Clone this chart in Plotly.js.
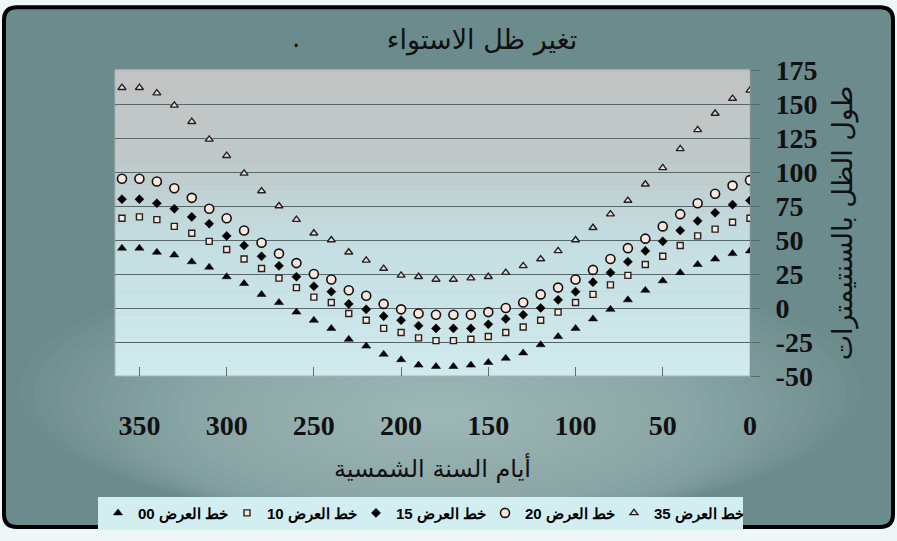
<!DOCTYPE html>
<html>
<head>
<meta charset="utf-8">
<script src="https://cdn.plot.ly/plotly-3.0.1.min.js"></script>
<style>html,body{margin:0;padding:0;background:#eef7f8;}#chart{width:897px;height:541px;}</style>
</head>
<body>
<div id="chart"></div>
<script>
// ---- Data ----
const days = [0,10,20,30,40,50,60,70,80,90,100,110,120,130,140,150,160,170,180,190,200,210,220,230,240,250,260,270,280,290,300,310,320,330,340,350,360];
const lat35 = [160,154,143,131,117,103,91,79,69,59,50,42,36,31,26,23,22,21,21,23,24,29,35,41,50,55,65,75,86,99,112,124,137,149,158,162,162];
const lat20 = [94,90,84,77,69,60,51,44,36,28,21,15,10,4,0,-3,-5,-5,-5,-4,-1,3,9,13,21,25,33,40,48,57,66,73,81,88,93,95,95];
const lat15 = [79,76,70,64,57,49,42,34,26,19,12,6,0,-5,-8,-12,-15,-15,-15,-13,-9,-6,-1,3,12,16,23,31,38,46,53,62,67,73,77,80,80];
const lat10 = [66,63,58,53,46,38,32,24,17,10,4,-3,-9,-14,-18,-21,-23,-24,-24,-22,-18,-15,-9,-4,4,8,15,22,29,36,43,49,55,60,65,67,66];
const lat00 = [42,40,36,32,26,20,13,6,-1,-8,-15,-21,-27,-33,-37,-40,-42,-43,-43,-42,-38,-34,-28,-23,-15,-9,-3,4,10,18,23,30,34,39,41,44,44];
const seriesNames = ["خط العرض 00","خط العرض 10","خط العرض 15","خط العرض 20","خط العرض 35"];
const yTicks = [-50,-25,0,25,50,75,100,125,150,175];
const xTicks = [0,50,100,150,200,250,300,350];
const titleText = "تغير ظل الاستواء";
const xTitle = "أيام السنة الشمسية";
const yTitle = "طول الظل بالسنتيمترات";

// ---- Geometry helpers ----
const W = 897, H = 541, ML = 115, MR = 147, MT = 70, MB = 159;
const PW = W - ML - MR, PH = H - MT - MB;
const fx = px => (px - ML) / PW;
const fy = py => (H - MB - py) / PH;

function hex2rgb(h){return [parseInt(h.substr(1,2),16),parseInt(h.substr(3,2),16),parseInt(h.substr(5,2),16)];}
function lerpColor(stops, t){
  for (let i=0;i<stops.length-1;i++){
    const a=stops[i], b=stops[i+1];
    if (t>=a[0] && t<=b[0]){
      const u=(t-a[0])/(b[0]-a[0]); const ca=hex2rgb(a[1]), cb=hex2rgb(b[1]);
      const c=ca.map((v,k)=>Math.round(v+(cb[k]-v)*u));
      return 'rgb('+c.join(',')+')';
    }
  }
  return stops[stops.length-1][1];
}

const shapes = [];
// outer rounded frame
(function(){
  const x0=4,y0=6,x1=893,y1=536,r=13;
  const P=(x,y)=>fx(x)+','+fy(y);
  const d='M'+P(x0+r,y0)+' L'+P(x1-r,y0)+' Q'+P(x1,y0)+' '+P(x1,y0+r)+' L'+P(x1,y1-r)+' Q'+P(x1,y1)+' '+P(x1-r,y1)+
    ' L'+P(x0+r,y1)+' Q'+P(x0,y1)+' '+P(x0,y1-r)+' L'+P(x0,y0+r)+' Q'+P(x0,y0)+' '+P(x0+r,y0)+' Z';
  shapes.push({type:'path',xref:'paper',yref:'paper',path:d,fillcolor:'#6b8b8c',line:{color:'#000',width:4},layer:'below'});
})();
// soft glow toward the lower centre (many faint ellipses)
const NG = 30;
for (let i=0;i<NG;i++){
  const k=1-i/NG, cx=440, cy=420, rx=400*k+20, ry=150*k+8;
  shapes.push({type:'circle',xref:'paper',yref:'paper',x0:fx(cx-rx),x1:fx(cx+rx),y0:fy(Math.min(cy+ry,532)),y1:fy(cy-ry),
    fillcolor:'#b4d4d4',opacity:0.045,line:{width:0},layer:'below'});
}
// plot area vertical gradient
const plotStops=[[0,'#c3c3c3'],[0.3,'#bfc9ca'],[0.55,'#c3dde0'],[1,'#d0eaee']];
const NB=40;
for (let i=0;i<NB;i++){
  shapes.push({type:'rect',xref:'paper',yref:'paper',x0:0,x1:1,y0:1-(i+1)/NB,y1:1-i/NB+0.002,
    fillcolor:lerpColor(plotStops,(i+0.5)/NB),line:{width:0},layer:'below'});
}
shapes.push({type:'rect',xref:'paper',yref:'paper',x0:0,x1:1,y0:0,y1:1,line:{color:'#a9b4b5',width:1},layer:'below'});

// ---- Traces ----
const bodyFill = '#fde6dc';
const traces = [
  {x:days,y:lat00,name:seriesNames[0],mode:'markers',type:'scatter',
   marker:{symbol:'triangle-up',size:8,color:'#000',line:{color:'#000',width:0.5}}},
  {x:days,y:lat10,name:seriesNames[1],mode:'markers',type:'scatter',
   marker:{symbol:'square',size:6,color:bodyFill,line:{color:'#222',width:1.4}}},
  {x:days,y:lat15,name:seriesNames[2],mode:'markers',type:'scatter',
   marker:{symbol:'diamond',size:7,color:'#000',line:{color:'#000',width:0.5}}},
  {x:days,y:lat20,name:seriesNames[3],mode:'markers',type:'scatter',
   marker:{symbol:'circle',size:9,color:bodyFill,line:{color:'#111',width:1.6}}},
  {x:days,y:lat35,name:seriesNames[4],mode:'markers',type:'scatter',
   marker:{symbol:'triangle-up',size:7,color:'#eadbd3',line:{color:'#222',width:1.4}}}
];

const tickFont = {family:'Liberation Serif',size:28,color:'#111',weight:'bold'};
const layout = {
  width:W, height:H,
  margin:{l:ML,r:MR,t:MT,b:MB,pad:0},
  paper_bgcolor:'#eef7f8',
  plot_bgcolor:'rgba(0,0,0,0)',
  font:{family:'DejaVu Sans, Arial, sans-serif',color:'#000'},
  title:{text:titleText,x:482/W,xanchor:'center',xref:'container',y:1-40/H,yanchor:'middle',yref:'container',
    font:{family:'DejaVu Sans, sans-serif',size:27,color:'#111'}},
  xaxis:{range:[364,0],tickvals:xTicks,ticktext:xTicks.map(String),showgrid:false,zeroline:false,
    ticks:'inside',ticklen:9,tickcolor:'#5d6d6e',tickwidth:1,showline:false,
    ticklabelstandoff:30,
    tickfont:tickFont,
    title:{text:xTitle,standoff:20,font:{family:'DejaVu Sans, sans-serif',size:24,color:'#111'}}},
  yaxis:{side:'right',range:[-50,175],tickvals:yTicks,ticktext:yTicks.map(String),
    showgrid:true,gridcolor:'#56686a',gridwidth:1,zeroline:false,
    showline:true,linecolor:'#7f9191',linewidth:1,
    ticks:'outside',ticklen:9,tickcolor:'#56686a',ticklabelstandoff:10,
    tickfont:tickFont,
    title:{text:yTitle,standoff:16,font:{family:'DejaVu Sans, sans-serif',size:27,color:'#111'}}},
  legend:{orientation:'h',x:fx(98),xanchor:'left',y:fy(505),yanchor:'top',
    bgcolor:'#d3eef0',borderwidth:0,traceorder:'normal',
    font:{family:'Liberation Sans, Arial, sans-serif',size:15,color:'#000',weight:'bold'},
    itemwidth:30,tracegroupgap:0,entrywidth:84},
  shapes:shapes,
  annotations:[{text:'.',xref:'paper',yref:'paper',x:fx(290),y:fy(20),showarrow:false,
    font:{size:26,color:'#111'}}],
  showlegend:true
};

Plotly.newPlot('chart',traces,layout,{displayModeBar:false,staticPlot:true});
</script>
</body>
</html>
